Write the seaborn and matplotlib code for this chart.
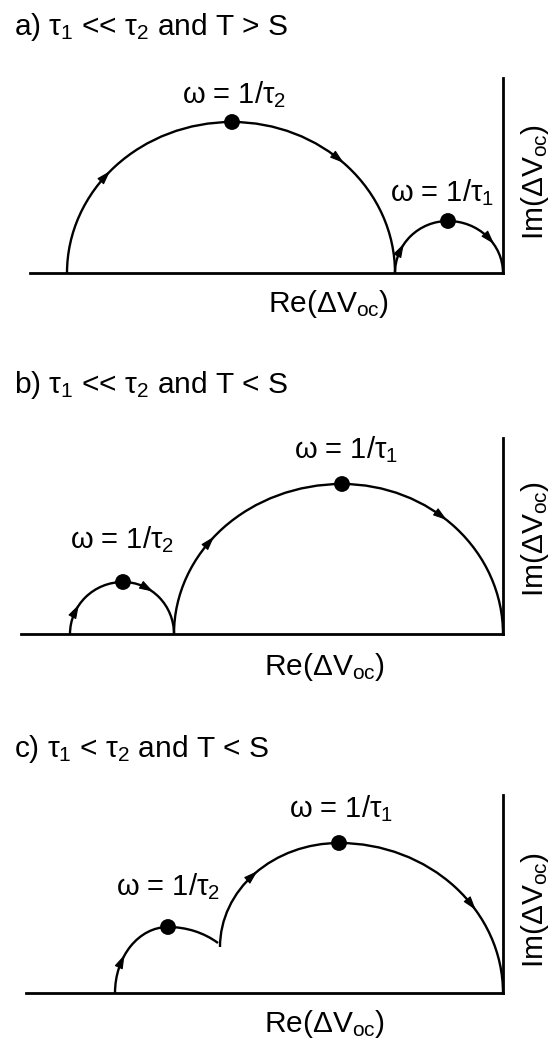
import numpy as np
import matplotlib
matplotlib.use("Agg")
import matplotlib.pyplot as plt
from matplotlib.patches import Arc
import seaborn as sns

# ---------------------------------------------------------------
# Curve data (Re offset in px, Im height above the Re axis in px)
# Every arc: start point, peak (marked by a dot), end point.
# ---------------------------------------------------------------
# a) tau1 << tau2 and T > S
a_start_x = [67, 395]
a_start_h = [0, 0]
a_peak_x = [232, 448]
a_peak_h = [151, 52]
a_end_x = [395, 503]
a_end_h = [0, 0]
a_arrow_x = [[106, 339], [401, 490]]
a_peak_labels = [r"$\omega$ = 1/$\tau_2$", r"$\omega$ = 1/$\tau_1$"]

# b) tau1 << tau2 and T < S
b_start_x = [70, 174]
b_start_h = [0, 0]
b_peak_x = [123, 342]
b_peak_h = [52, 150]
b_end_x = [174, 503]
b_end_h = [0, 0]
b_arrow_x = [[76, 148], [210, 442]]
b_peak_labels = [r"$\omega$ = 1/$\tau_2$", r"$\omega$ = 1/$\tau_1$"]

# c) tau1 < tau2 and T < S  (overlapping arcs meeting in a cusp)
c_start_x = [115, 220]
c_start_h = [0, 46]
c_peak_x = [168, 339]
c_peak_h = [66, 150]
c_end_x = [218, 503]
c_end_h = [50, 0]
c_arrow_x = [[122], [253, 472]]
c_peak_labels = [r"$\omega$ = 1/$\tau_2$", r"$\omega$ = 1/$\tau_1$"]

titles = [r"a) $\tau_1$ << $\tau_2$ and T > S",
          r"b) $\tau_1$ << $\tau_2$ and T < S",
          r"c) $\tau_1$ < $\tau_2$ and T < S"]
re_label = r"Re($\Delta V_{oc}$)"
im_label = r"Im($\Delta V_{oc}$)"

# ---------------------------------------------------------------
# Style
# ---------------------------------------------------------------
sns.set_theme(style="white")
plt.rcParams["font.family"] = ["Liberation Sans", "DejaVu Sans"]
plt.rcParams["mathtext.fontset"] = "custom"
plt.rcParams["mathtext.rm"] = "Liberation Sans"
plt.rcParams["mathtext.it"] = "Liberation Sans"
plt.rcParams["mathtext.bf"] = "Liberation Sans:bold"

W, H = 555, 1046
FS_TITLE = 21.5
FS_LABEL = 21
FS_AXIS = 21.5
CURVE_LW = 1.7
AXIS_LW = 2.0

fig = plt.figure(figsize=(W / 100, H / 100), dpi=100)
fig.patch.set_facecolor("white")


def fx(x):
    return x / W


def fy(y):
    return 1 - y / H


def pieces(sx, sh, px, ph, ex, eh):
    """Rising and falling quarter-ellipse pieces of one arc."""
    a_left, b_left = px - sx, ph - sh
    dx = ex - px
    a_right = dx / np.sqrt(1 - (eh / ph) ** 2)
    t_end = np.degrees(np.arctan2(eh, dx))
    return (px, sh, a_left, b_left), (px, 0.0, a_right, ph, t_end)


def draw_panel(ax, sxs, shs, pxs, phs, exs, ehs, arrows):
    for sx, sh, px, ph, ex, eh, arr in zip(sxs, shs, pxs, phs, exs, ehs, arrows):
        (lcx, lcy, la, lb), (rcx, rcy, ra, rb, t_end) = pieces(sx, sh, px, ph, ex, eh)
        ax.add_patch(Arc((lcx, lcy), 2 * la, 2 * lb, theta1=90, theta2=180,
                         lw=CURVE_LW, color="black", clip_on=False))
        ax.add_patch(Arc((rcx, rcy), 2 * ra, 2 * rb, theta1=t_end, theta2=90,
                         lw=CURVE_LW, color="black", clip_on=False))
        # direction arrows along the clockwise path
        for x in arr:
            if x <= px:
                cx, cy, a, b = lcx, lcy, la, lb
            else:
                cx, cy, a, b = rcx, rcy, ra, rb
            t = np.arccos(np.clip((x - cx) / a, -1, 1))
            p = np.array([x, cy + b * np.sin(t)])
            d = np.array([a * np.sin(t), -b * np.cos(t)])
            d = d / np.hypot(*d)
            ax.annotate("", xy=p + 6 * d, xytext=p - 6 * d,
                        arrowprops=dict(arrowstyle="-|>,head_length=0.85,head_width=0.27",
                                        color="black", lw=0.8, shrinkA=0, shrinkB=0,
                                        mutation_scale=10),
                        annotation_clip=False)
    sns.scatterplot(x=pxs, y=phs, ax=ax, color="black", s=130, edgecolor="none",
                    zorder=5, clip_on=False, legend=False)


# panel boxes in pixels: left, right, Re-axis y, top of Im axis
boxes = [(30, 503, 273, 78), (21, 503, 634, 438), (26, 503, 993, 795)]
title_pos = [(14, 35), (14, 393), (14, 757)]
re_pos = [(329, 312), (325, 675), (325, 1032)]
im_pos = [(535, 182), (535, 539), (535, 910)]
label_pos = [[(234, 103), (442, 201)],
             [(122, 548), (346, 458)],
             [(168, 895), (341, 817)]]

data = [
    (a_start_x, a_start_h, a_peak_x, a_peak_h, a_end_x, a_end_h, a_arrow_x, a_peak_labels),
    (b_start_x, b_start_h, b_peak_x, b_peak_h, b_end_x, b_end_h, b_arrow_x, b_peak_labels),
    (c_start_x, c_start_h, c_peak_x, c_peak_h, c_end_x, c_end_h, c_arrow_x, c_peak_labels),
]

for i, (box, d) in enumerate(zip(boxes, data)):
    left, right, base, top = box
    ax = fig.add_axes([fx(left), fy(base), (right - left) / W, (base - top) / H])
    ax.set_xlim(left, right)
    ax.set_ylim(0, base - top)
    ax.set_facecolor("none")
    ax.set_xticks([])
    ax.set_yticks([])
    sns.despine(ax=ax, left=True, top=True, right=False, bottom=False)
    for s in ("bottom", "right"):
        ax.spines[s].set_linewidth(AXIS_LW)
        ax.spines[s].set_color("black")
        ax.spines[s].set_capstyle("projecting")

    sxs, shs, pxs, phs, exs, ehs, arrows, plabels = d
    draw_panel(ax, sxs, shs, pxs, phs, exs, ehs, arrows)
    ax.set_xlabel("")
    ax.set_ylabel("")

    for (lx, ly), txt in zip(label_pos[i], plabels):
        fig.text(fx(lx), fy(ly), txt, ha="center", va="baseline", fontsize=FS_LABEL,
                 color="black")

    fig.text(fx(title_pos[i][0]), fy(title_pos[i][1]), titles[i], ha="left",
             va="baseline", fontsize=FS_TITLE, color="black")

    # axis names: Re along the horizontal axis, Im beside the vertical one
    fig.text(fx(re_pos[i][0]), fy(re_pos[i][1]), re_label, ha="center",
             va="baseline", fontsize=FS_AXIS, color="black")
    fig.text(fx(im_pos[i][0]), fy(im_pos[i][1]), im_label, ha="center",
             va="center", rotation=90, fontsize=FS_AXIS, color="black")

fig.savefig("out.png", dpi=100, facecolor="white")
